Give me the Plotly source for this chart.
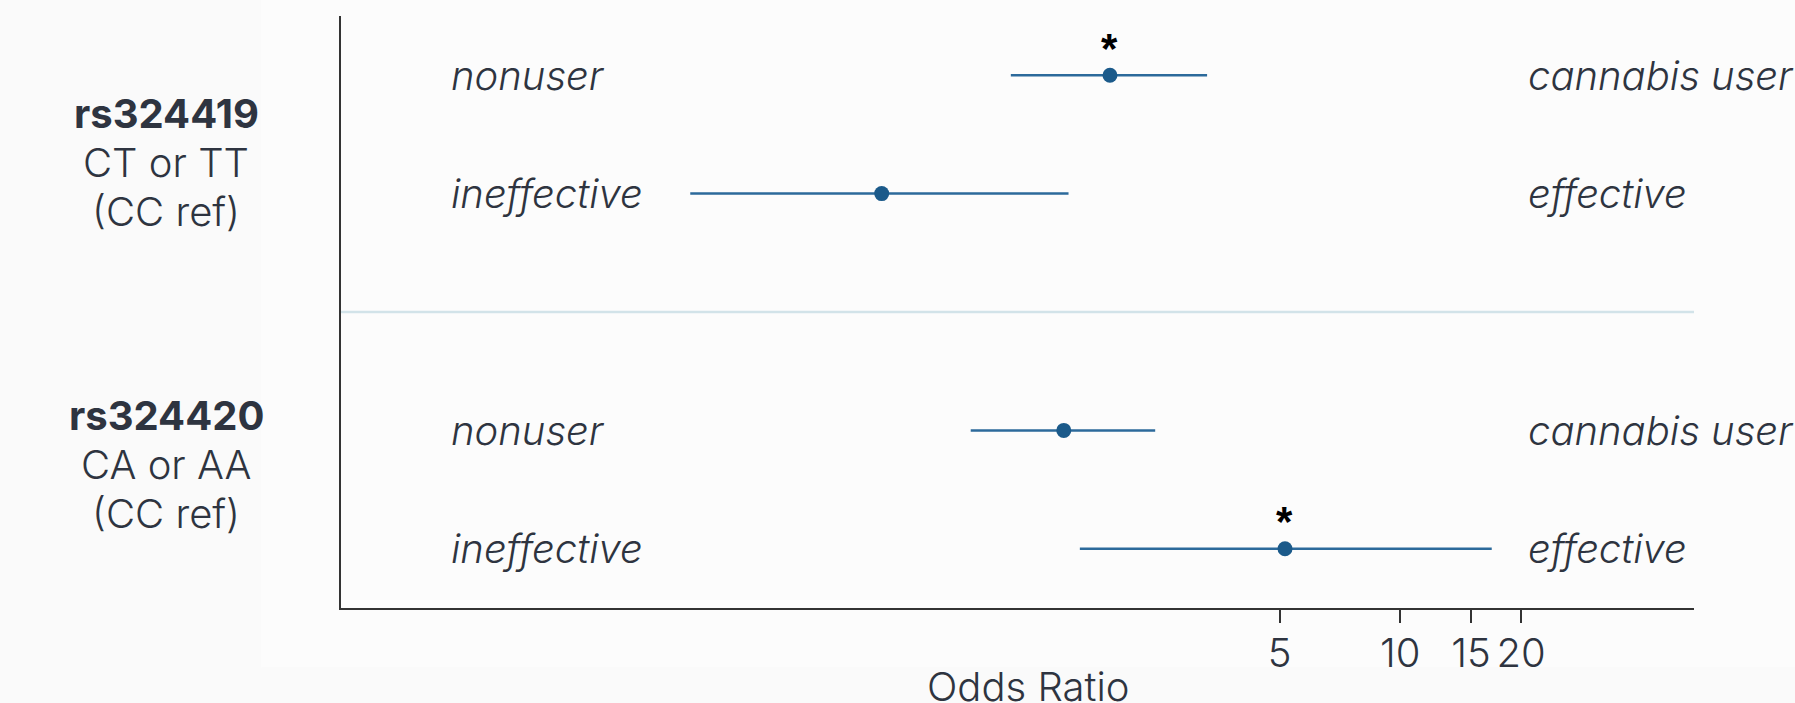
import math
import plotly.graph_objects as go

# Forest plot of odds ratios for two SNPs and two comparisons each
snps = ["rs324419", "rs324420"]
genotypes = ["CT or TT", "CA or AA"]
reference_note = "(CC ref)"

left_labels = ["nonuser", "ineffective", "nonuser", "ineffective"]
right_labels = ["cannabis user", "effective", "cannabis user", "effective"]
row_pos = [4, 3, 1, 0]

odds_ratio = [1.89, 0.51, 1.45, 5.16]
ci_low = [1.07, 0.17, 0.85, 1.59]
ci_high = [3.30, 1.49, 2.45, 16.9]
significant = [True, False, False, True]

tick_vals = [5, 10, 15, 20]

TEXT = "#2e3440"
POINT = "#1b5a8a"
REF = "#c9e0e9"
FONT = "Inter"
SIZE = 40

fig = go.Figure()

fig.add_trace(go.Scatter(
    x=odds_ratio, y=row_pos, mode="markers",
    marker=dict(color=POINT, size=15, symbol="circle"),
    error_x=dict(
        type="data", symmetric=False,
        array=[h - o for h, o in zip(ci_high, odds_ratio)],
        arrayminus=[o - l for o, l in zip(odds_ratio, ci_low)],
        color="#2c6a9b", thickness=2.5, width=0,
    ),
    showlegend=False, hoverinfo="skip",
))

label_font = dict(family=FONT, size=SIZE, color=TEXT, style="italic", weight=300)
plain_font = dict(family=FONT, size=SIZE, color=TEXT, weight=300)

annotations = []
for y, lt, rt in zip(row_pos, left_labels, right_labels):
    annotations.append(dict(x=0.080, y=y, xref="paper", yref="y", text=lt, showarrow=False,
                            xanchor="left", yanchor="middle", font=label_font))
    annotations.append(dict(x=0.876, y=y, xref="paper", yref="y", text=rt, showarrow=False,
                            xanchor="left", yanchor="middle", font=label_font))

# significance markers above the estimate
for o, y, s in zip(odds_ratio, row_pos, significant):
    if s:
        annotations.append(dict(x=math.log10(o), y=y, xref="x", yref="y", showarrow=False,
                                text="<b>*</b>", yshift=27,
                                font=dict(family="Liberation Sans", size=42, color="#000000")))

# group labels, one line each (SNP, genotype, reference genotype)
group_mid = [3.263, 0.712]
line_step = 0.415
for snp, gt, gm in zip(snps, genotypes, group_mid):
    annotations.append(dict(x=-0.1293, y=gm + line_step, xref="paper", yref="y", text=snp,
                            showarrow=False, xanchor="center", yanchor="middle",
                            font=dict(family=FONT, size=SIZE, color=TEXT, weight=700)))
    annotations.append(dict(x=-0.1293, y=gm, xref="paper", yref="y", text=gt,
                            showarrow=False, xanchor="center", yanchor="middle", font=plain_font))
    annotations.append(dict(x=-0.1293, y=gm - line_step, xref="paper", yref="y", text=reference_note,
                            showarrow=False, xanchor="center", yanchor="middle", font=plain_font))

annotations.append(dict(x=0.5075, y=-0.1334, xref="paper", yref="paper", text="Odds Ratio",
                        showarrow=False, xanchor="center", yanchor="middle", font=plain_font))

shapes = [
    # inner page panel
    dict(type="rect", xref="paper", yref="paper", x0=-0.0591, x1=1.08, y0=-0.1000, y1=1.1,
         fillcolor="#fcfcfc", line=dict(width=0), layer="below"),
    # null-effect reference at OR = 1
    dict(type="line", xref="x", yref="y", x0=0, x1=0, y0=-0.5, y1=4.5,
         line=dict(color=REF, width=2), layer="below"),
    # separator between SNP groups
    dict(type="line", xref="paper", yref="y", x0=0, x1=1, y0=2, y1=2,
         line=dict(color="#d2e3e9", width=2.5), layer="below"),
]

fig.update_layout(
    width=1795, height=703,
    margin=dict(l=341, r=101, t=16, b=95),
    paper_bgcolor="#fafafa", plot_bgcolor="rgba(0,0,0,0)",
    font=dict(family=FONT, color=TEXT, size=SIZE, weight=300),
    annotations=annotations, shapes=shapes,
    xaxis=dict(type="log", range=[-1.640, 1.732], tickvals=tick_vals,
               ticktext=[str(v) for v in tick_vals],
               showgrid=False, zeroline=False, showline=True, linecolor="#333333", linewidth=2,
               ticks="outside", ticklen=13, tickwidth=2, tickcolor="#333333",
               ticklabelstandoff=-4,
               tickfont=dict(family=FONT, size=SIZE, color=TEXT, weight=300)),
    yaxis=dict(range=[-0.5, 4.5], showgrid=False, zeroline=False, showticklabels=False,
               showline=True, linecolor="#333333", linewidth=2, ticks=""),
)

fig.write_html("out.html")
